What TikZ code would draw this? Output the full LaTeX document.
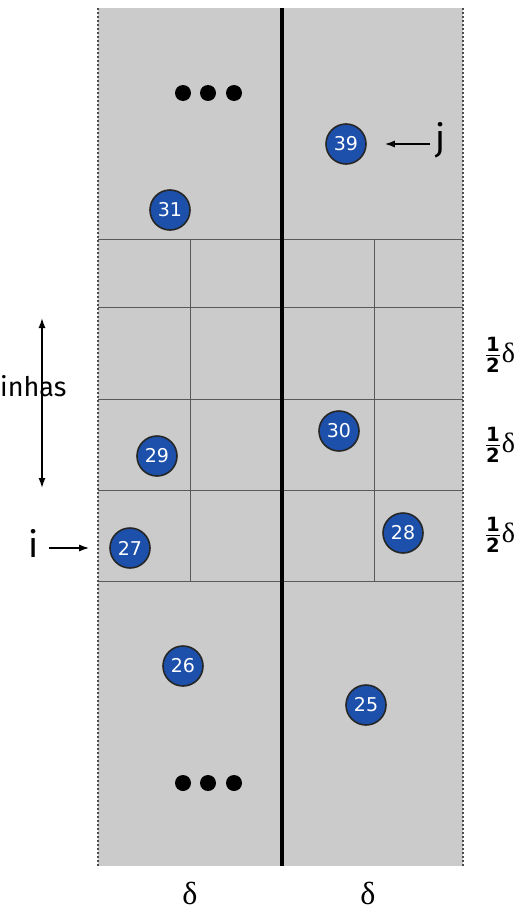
\documentclass[tikz,border=0pt]{standalone}
\usepackage{fix-cm}
\usepackage{amsmath}
\usepackage{amssymb}
\usepackage{fontspec}
\setsansfont{DejaVu Sans}
\newfontfamily\handfont{Fira Sans}
\newfontfamily\greekfont{Liberation Serif}
\usetikzlibrary{shapes,arrows,arrows.meta,positioning,calc}
\definecolor{cellgray}{HTML}{CBCBCB}
\definecolor{ptblue}{HTML}{1C50AA}
\tikzstyle{point} = [circle, draw=black!85, fill=ptblue, line width=1.6pt, minimum size=40, inner sep=0pt, text=white, font=\sffamily\fontsize{19}{20}\selectfont]
\tikzstyle{dot} = [circle, fill=black, minimum size=16, inner sep=0pt]
\tikzstyle{gridline} = [draw=black!65, line width=0.9pt]
\tikzstyle{half} = [font=\greekfont\fontsize{32}{34}\selectfont]
\newcommand{\halfdelta}{$\frac{\text{\sffamily\bfseries 1}}{\text{\sffamily\bfseries 2}}$\kern1pt δ}

\begin{document}
\begin{tikzpicture}[x=1pt, y=-1pt, >={Latex[length=10pt,width=7pt]}]
  \useasboundingbox (0,0) rectangle (525,910);
  % cell background
  \fill [cellgray] (98,8) rectangle (463,866);
  \draw [black!70, dotted, line width=2pt] (98,8) -- (98,866);
  \draw [black!70, dotted, line width=2pt] (463,8) -- (463,866);
  % strips
  \foreach \y in {239,307,399,490,581}
    \draw [gridline] (98,\y) -- (463,\y);
  \draw [gridline] (190,239) -- (190,581);
  \draw [gridline] (374,239) -- (374,581);
  \draw [line width=3.5pt] (282,8) -- (282,866);

  % dots
  \foreach \x [count=\k] in {183,208,234} {
    \node [dot] (top\k) at (\x,93) {};
    \node [dot] (bot\k) at (\x,783) {};
  }

  % points
  \node [point] (p31) at (170,210) {31};
  \node [point] (p39) at (346,144) {39};
  \node [point] (p29) at (157,456) {29};
  \node [point] (p30) at (339,431) {30};
  \node [point] (p27) at (130,548) {27};
  \node [point] (p28) at (403,533) {28};
  \node [point] (p26) at (183,666) {26};
  \node [point] (p25) at (366,705) {25};

  % labels
  \node [font=\handfont\fontsize{36}{38}\selectfont] (jlab) at (441,140) {j};
  \node [font=\handfont\fontsize{36}{38}\selectfont] (ilab) at (34,543) {i};
  \draw [->, line width=1.4pt, shorten >=18pt, shorten <=2pt] (jlab.west |- p39) -- (p39);
  \draw [->, line width=1.4pt, shorten >=20pt, shorten <=6pt] (ilab.east |- p27) -- (p27);

  \coordinate (rtop) at (42,318);
  \coordinate (rbot) at (42,488);
  \node [font=\handfont\fontsize{27}{29}\selectfont, anchor=west, inner sep=0pt] (rows) at (0,386) {inhas};
  \draw [<->, line width=1.4pt] (rtop) -- (rbot);

  \node [half, font=\greekfont\fontsize{28}{30}\selectfont] (h1) at (500,355) {\halfdelta};
  \node [half, font=\greekfont\fontsize{28}{30}\selectfont] (h2) at (500,445) {\halfdelta};
  \node [half, font=\greekfont\fontsize{28}{30}\selectfont] (h3) at (500,535) {\halfdelta};

  \node [half] (d1) at (190,893) {δ};
  \node [half] (d2) at (368,893) {δ};
\end{tikzpicture}
\end{document}
